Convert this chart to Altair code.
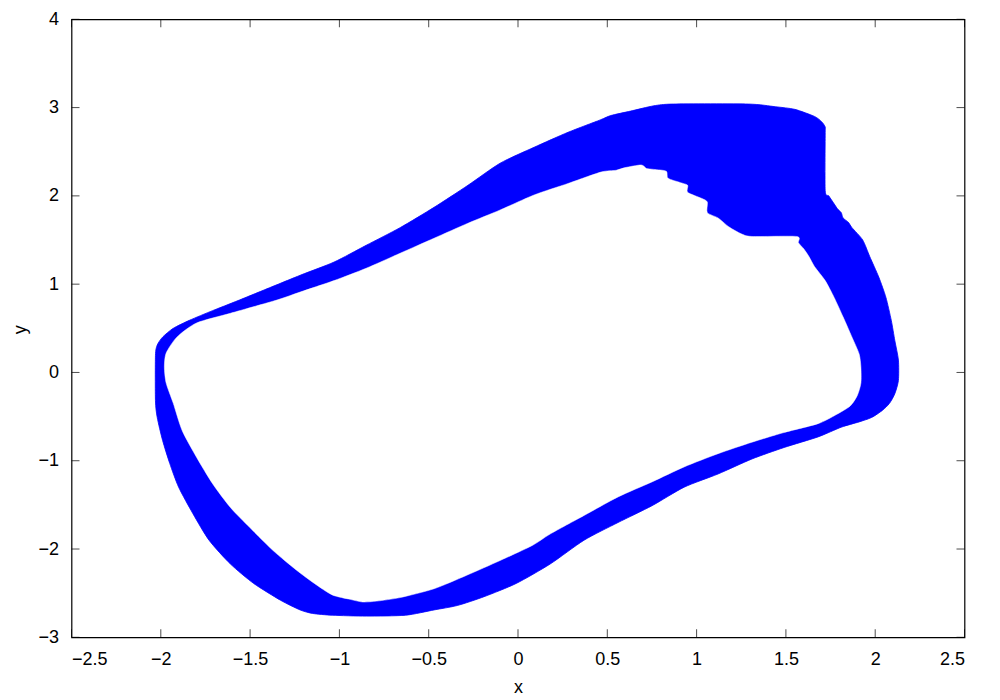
import altair as alt
import pandas as pd

# Outer boundary of the band (clockwise)
outer_x = [-2.03, -2.03, -2.02, -1.99, -1.93, -1.84, -1.71, -1.56, -1.22, -1.03, -0.85, -0.66,
           -0.47, -0.28, -0.10, 0.09, 0.28, 0.46, 0.52, 0.63, 0.76, 0.87, 1.29, 1.44, 1.55,
           1.66, 1.70, 1.72, 1.72, 1.72, 1.74, 1.77, 1.79, 1.81, 1.82, 1.85, 1.87, 1.93, 1.97, 2.02,
           2.06, 2.09, 2.11, 2.13, 2.13, 2.11, 2.08, 2.04, 1.98, 1.91, 1.81, 1.68, 1.49, 1.31,
           1.12, 0.93, 0.75, 0.56, 0.37, 0.18, -0.01, -0.19, -0.34, -0.47, -0.63, -0.85, -1.04,
           -1.15, -1.22, -1.33, -1.48, -1.61, -1.73, -1.82, -1.90, -1.95, -1.99, -2.02]
outer_y = [-0.32, 0.19, 0.31, 0.40, 0.50, 0.59, 0.70, 0.82, 1.10, 1.25, 1.44, 1.64,
           1.87, 2.12, 2.37, 2.55, 2.72, 2.86, 2.91, 2.96, 3.02, 3.04, 3.04, 3.01, 2.98,
           2.90, 2.84, 2.78, 2.70, 2.06, 2.00, 1.91, 1.85, 1.81, 1.75, 1.70, 1.64, 1.50, 1.31, 1.08,
           0.85, 0.59, 0.36, 0.14, -0.09, -0.24, -0.35, -0.43, -0.51, -0.56, -0.62, -0.73, -0.85, -0.98,
           -1.15, -1.30, -1.51, -1.70, -1.90, -2.17, -2.39, -2.54, -2.64, -2.69, -2.75, -2.76, -2.75,
           -2.73, -2.69, -2.58, -2.39, -2.17, -1.90, -1.60, -1.30, -1.03, -0.77, -0.51]

# Inner boundary of the band (hole)
inner_x = [-1.98, -1.97, -1.91, -1.80, -1.61, -1.35, -1.22, -1.03, -0.85, -0.66, -0.47, -0.28,
           -0.10, 0.09, 0.28, 0.465, 0.55, 0.60, 0.69, 0.72, 0.76, 0.83, 0.84, 0.91, 0.95, 0.95,
           1.03, 1.06, 1.06, 1.12, 1.18, 1.25, 1.31, 1.56, 1.57, 1.60, 1.63, 1.66, 1.72, 1.77,
           1.82, 1.87, 1.91, 1.92, 1.92, 1.90, 1.86, 1.78, 1.68, 1.49, 1.31, 1.12, 0.93, 0.75,
           0.56, 0.37, 0.18, 0.08, -0.10, -0.29, -0.47, -0.66, -0.79, -0.87, -0.94, -1.04, -1.14,
           -1.24, -1.37, -1.50, -1.61, -1.71, -1.80, -1.88, -1.93, -1.97]
inner_y = [0.06, 0.22, 0.40, 0.56, 0.67, 0.82, 0.91, 1.04, 1.18, 1.35, 1.52, 1.69,
           1.84, 2.01, 2.14, 2.27, 2.29, 2.32, 2.35, 2.31, 2.30, 2.28, 2.20, 2.15, 2.12, 2.04,
           1.97, 1.93, 1.81, 1.75, 1.65, 1.57, 1.54, 1.54, 1.47, 1.40, 1.31, 1.20, 1.04, 0.85,
           0.63, 0.40, 0.21, 0.06, -0.12, -0.26, -0.38, -0.48, -0.58, -0.68, -0.79, -0.92, -1.07, -1.24,
           -1.41, -1.62, -1.83, -1.96, -2.13, -2.30, -2.45, -2.55, -2.59, -2.60, -2.57, -2.52, -2.39,
           -2.24, -2.02, -1.76, -1.53, -1.26, -0.96, -0.66, -0.35, -0.12]

x_ticks = [-2.5, -2, -1.5, -1, -0.5, 0, 0.5, 1, 1.5, 2, 2.5]
y_ticks = [-3, -2, -1, 0, 1, 2, 3, 4]

W, H = 893, 618
FONT = "Liberation Sans"
FS = 18

outer = pd.DataFrame({"x": outer_x, "y": outer_y, "i": range(len(outer_x))})
inner = pd.DataFrame({"x": inner_x, "y": inner_y, "i": range(len(inner_x))})
xt = pd.DataFrame({"x": x_ticks})
yt = pd.DataFrame({"y": y_ticks})

xscale = alt.Scale(domain=[-2.5, 2.5], nice=False, zero=False)
yscale = alt.Scale(domain=[-3, 4], nice=False, zero=False)

xaxis = alt.Axis(values=x_ticks, format="~g", ticks=False, tickSize=0, domain=False, grid=False,
                 labelFont=FONT, labelFontSize=FS, labelPadding=13, labelColor="black",
                 title="x", titleFont=FONT, titleFontSize=FS, titleFontWeight="normal",
                 titleColor="black", titleX=446.5, titleY=50, titleBaseline="middle",
                 titleAlign="center")
yaxis = alt.Axis(values=y_ticks, format="~g", ticks=False, tickSize=0, domain=False, grid=False,
                 labelFont=FONT, labelFontSize=FS, labelPadding=13, labelColor="black",
                 title="y", titleFont=FONT, titleFontSize=FS, titleFontWeight="normal",
                 titleColor="black", titleAngle=-90, titleX=-51.5, titleY=310,
                 titleBaseline="middle", titleAlign="center")

band = alt.Chart(outer).mark_line(fill="#0000ff", stroke="#0000ff", strokeWidth=0.8,
                                  interpolate="cardinal-closed", tension=0.3).encode(
    x=alt.X("x:Q", scale=xscale, axis=xaxis),
    y=alt.Y("y:Q", scale=yscale, axis=yaxis),
    order="i:Q",
)

hole = alt.Chart(inner).mark_line(fill="white", stroke="white", strokeWidth=0.5,
                                  interpolate="cardinal-closed", tension=0.3).encode(
    x=alt.X("x:Q", scale=xscale),
    y=alt.Y("y:Q", scale=yscale),
    order="i:Q",
)

tick_bottom = alt.Chart(xt).mark_tick(orient="vertical", size=8, thickness=1, color="black").encode(
    x=alt.X("x:Q", scale=xscale), y=alt.value(H - 4))
tick_top = alt.Chart(xt).mark_tick(orient="vertical", size=8, thickness=1, color="black").encode(
    x=alt.X("x:Q", scale=xscale), y=alt.value(4))
tick_left = alt.Chart(yt).mark_tick(orient="horizontal", size=8, thickness=1, color="black").encode(
    y=alt.Y("y:Q", scale=yscale), x=alt.value(4))
tick_right = alt.Chart(yt).mark_tick(orient="horizontal", size=8, thickness=1, color="black").encode(
    y=alt.Y("y:Q", scale=yscale), x=alt.value(W - 4))

chart = alt.layer(band, hole, tick_bottom, tick_top, tick_left, tick_right).properties(
    width=W, height=H,
    autosize=alt.AutoSizeParams(type="none"),
    padding={"left": 63.5, "top": 11.3, "right": 20, "bottom": 62},
    background="white",
).configure_view(stroke="black", strokeWidth=1.2)

chart.save("out.html", embed_options={"renderer": "svg", "actions": False})
